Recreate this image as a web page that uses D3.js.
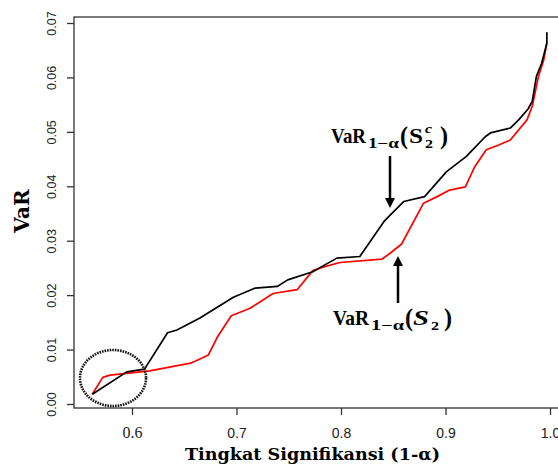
<!DOCTYPE html>
<html>
<head>
<meta charset="utf-8">
<script src="https://cdn.jsdelivr.net/npm/d3@7"></script>
<style>
	body { margin: 0; background: #fff; }
	svg { display: block; }
</style>
</head>
<body>
<script>
"use strict";

// significance level (1 - alpha) and VaR values
var alphaS2c = [0.562, 0.595, 0.612, 0.634, 0.643, 0.665, 0.697, 0.718, 0.739, 0.749, 0.773, 0.796,
	0.818, 0.841, 0.847, 0.860, 0.880, 0.901, 0.920, 0.938, 0.943, 0.962, 0.970, 0.979, 0.983,
	0.987, 0.992, 0.997, 0.997];
var varS2c = [0.0018, 0.0059, 0.0064, 0.0131, 0.0136, 0.0158, 0.0196, 0.0213, 0.0216, 0.0228, 0.0243, 0.0268,
	0.0271, 0.0335, 0.0347, 0.0372, 0.0381, 0.0427, 0.0455, 0.0491, 0.0498, 0.0507, 0.0522, 0.0542, 0.0556,
	0.0602, 0.0626, 0.0663, 0.0683];

var alphaS2 = [0.562, 0.572, 0.579, 0.617, 0.656, 0.663, 0.673, 0.682, 0.695, 0.713, 0.735, 0.758,
	0.773, 0.782, 0.799, 0.839, 0.847, 0.858, 0.879, 0.892, 0.904, 0.919, 0.928, 0.939, 0.951,
	0.962, 0.978, 0.983, 0.989, 0.994, 0.997];
var varS2 = [0.0018, 0.0049, 0.0053, 0.0061, 0.0075, 0.0081, 0.0090, 0.0124, 0.0162, 0.0176, 0.0203, 0.0210,
	0.0245, 0.0251, 0.0260, 0.0266, 0.0277, 0.0294, 0.0369, 0.0381, 0.0393, 0.0399, 0.0436, 0.0467, 0.0476,
	0.0485, 0.0522, 0.0547, 0.0602, 0.0632, 0.0663];

var xTicks = [0.6, 0.7, 0.8, 0.9, 1.0];
var yTicks = [0.00, 0.01, 0.02, 0.03, 0.04, 0.05, 0.06, 0.07];

var width = 558, height = 465;
var box = { left: 74, top: 17, bottom: 408, right: 575 };

var svg = d3.select("body").append("svg")
	.attr("width", width)
	.attr("height", height);

var x = d3.scaleLinear().domain([0.6, 1.0]).range([132, 550]);
var y = d3.scaleLinear().domain([0, 0.07]).range([404, 23]);

// plot frame (right side falls outside the picture)
svg.append("rect")
	.attr("x", box.left)
	.attr("y", box.top)
	.attr("width", box.right - box.left)
	.attr("height", box.bottom - box.top)
	.style("fill", "none")
	.style("stroke", "#333")
	.style("stroke-width", 1.3);

// y axis
var yAxis = svg.append("g")
	.attr("transform", "translate(" + box.left + ",0)")
	.call(d3.axisLeft(y).tickValues(yTicks).tickSize(7).tickFormat(d3.format(".2f")));
yAxis.select(".domain").remove();
yAxis.selectAll(".tick line").style("stroke", "#333").style("stroke-width", 1.3);
yAxis.selectAll(".tick text")
	.attr("x", null).attr("dy", null)
	.attr("transform", "translate(-22,0) rotate(-90)")
	.attr("text-anchor", "middle")
	.attr("dominant-baseline", "central")
	.style("font-family", "'Liberation Sans', Arial, sans-serif")
	.style("font-size", "12.5px")
	.style("fill", "#222");

// x axis
var xAxis = svg.append("g")
	.attr("transform", "translate(0," + box.bottom + ")")
	.call(d3.axisBottom(x).tickValues(xTicks).tickSize(7).tickFormat(d3.format(".1f")));
xAxis.select(".domain").remove();
xAxis.selectAll(".tick line").style("stroke", "#333").style("stroke-width", 1.3);
xAxis.selectAll(".tick text")
	.attr("y", 30)
	.attr("dy", null)
	.style("font-family", d => d === 0.6 ? "'Liberation Serif', 'Times New Roman', serif" : "'Liberation Sans', Arial, sans-serif")
	.style("font-size", d => d === 0.6 ? "16px" : "14px")
	.style("fill", "#222");

// axis titles
svg.append("text")
	.attr("x", 185)
	.attr("y", 460)
	.attr("textLength", 255)
	.attr("lengthAdjust", "spacingAndGlyphs")
	.style("font-family", "'DejaVu Serif', serif")
	.style("font-weight", "bold")
	.style("font-size", "16px")
	.text("Tingkat Signifikansi (1-\u03b1)");

svg.append("text")
	.attr("transform", "translate(29,211) rotate(-90)")
	.attr("text-anchor", "middle")
	.style("font-family", "'DejaVu Serif', serif")
	.style("font-weight", "bold")
	.style("font-size", "20px")
	.text("VaR");

// the two VaR curves
var line = d3.line()
	.x(d => x(d[0]))
	.y(d => y(d[1]));

svg.append("path")
	.datum(d3.zip(alphaS2, varS2))
	.attr("d", line)
	.style("fill", "none")
	.style("stroke", "#ff0000")
	.style("stroke-width", 1.7)
	.style("stroke-linejoin", "round");

svg.append("path")
	.datum(d3.zip(alphaS2c, varS2c))
	.attr("d", line)
	.style("fill", "none")
	.style("stroke", "#000")
	.style("stroke-width", 1.7)
	.style("stroke-linejoin", "round");

// dotted circle round the start of the curves
svg.append("ellipse")
	.attr("cx", 113)
	.attr("cy", 378)
	.attr("rx", 33)
	.attr("ry", 28)
	.style("fill", "none")
	.style("stroke", "#111")
	.style("stroke-width", 2.6)
	.style("stroke-dasharray", "1.6,1");

// arrows
function arrow(x0, yFrom, yTip) {
	var dir = yTip > yFrom ? 1 : -1;
	svg.append("line")
		.attr("x1", x0).attr("x2", x0)
		.attr("y1", yFrom).attr("y2", yTip - dir * 8)
		.style("stroke", "#000")
		.style("stroke-width", 2.5);
	svg.append("path")
		.attr("d", "M " + (x0 - 5) + " " + (yTip - dir * 10) + " L " + (x0 + 5) + " " + (yTip - dir * 10) + " L " + x0 + " " + yTip + " Z")
		.style("fill", "#000");
}
arrow(390, 156, 208);
arrow(398, 303, 256);

// labels, built piece by piece like the math-typeset original
var serif = "'Liberation Serif', 'Times New Roman', serif";

function piece(txt, px, py, size, len, italic) {
	var t = svg.append("text")
		.attr("x", px)
		.attr("y", py)
		.style("font-family", serif)
		.style("font-weight", "bold")
		.style("font-size", size + "px")
		.style("font-style", italic ? "italic" : "normal")
		.text(txt);
	if (len) t.attr("textLength", len).attr("lengthAdjust", "spacingAndGlyphs");
	return t;
}

// VaR_{1-a}(S_2^c)
piece("VaR", 331, 143, 21, 35);
piece("1\u2212\u03b1", 368, 148, 14, 31);
piece("(", 400, 144, 25, 8);
piece("S", 409, 143, 21, 14);
piece("c", 425, 133, 13, 7, true);
piece("2", 425, 148, 13, 8);
piece(")", 440, 144, 25, 8);

// VaR_{1-a}(S_2)
piece("VaR", 333, 325, 21, 36);
piece("1\u2212\u03b1", 371, 330, 14, 33);
piece("(", 405, 326, 25, 8);
piece("S", 413, 325, 21, 16, true);
piece("2", 431, 330, 13, 8);
piece(")", 444, 326, 25, 8);
</script>
</body>
</html>
